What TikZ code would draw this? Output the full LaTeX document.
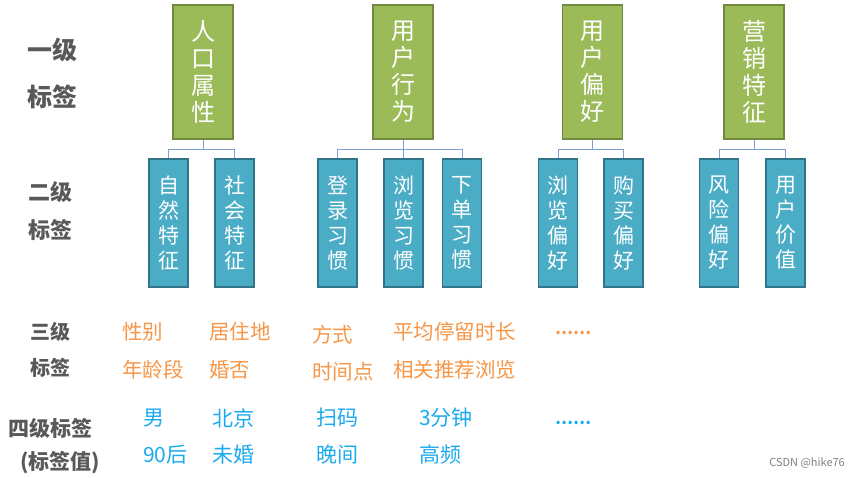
\documentclass[tikz,border=0pt]{standalone}
\usepackage{fontspec}
\setmainfont{Noto Sans CJK SC}
\usetikzlibrary{positioning}

\definecolor{oneFill}{HTML}{9BBB59}
\definecolor{oneLine}{HTML}{71893F}
\definecolor{twoFill}{HTML}{4BACC6}
\definecolor{twoLine}{HTML}{31748A}
\definecolor{linkCol}{HTML}{7F9FD3}
\definecolor{rowCol}{HTML}{595959}
\definecolor{threeCol}{HTML}{F79646}
\definecolor{fourCol}{HTML}{1AAAEE}

\begin{document}
\begin{tikzpicture}[x=1pt,y=1pt,
  onebox/.style={draw=oneLine, fill=oneFill, line width=1.6pt, minimum width=60pt, minimum height=134pt, inner sep=0pt, align=center, text=white, font=\fontsize{24}{27}\selectfont},
  twobox/.style={draw=twoLine, fill=twoFill, line width=1.6pt, minimum width=39pt, minimum height=128pt, inner sep=0pt, align=center, text=white, font=\fontsize{21}{25}\selectfont},
  link/.style={draw=linkCol, line width=1pt},
  rowlabel/.style={text=rowCol, inner sep=0pt, font=\bfseries\fontsize{22}{22}\selectfont},
  threetext/.style={anchor=west, inner sep=0pt, text=threeCol, font=\fontsize{20.5}{20.5}\selectfont},
  fourtext/.style={anchor=west, inner sep=0pt, text=fourCol, font=\fontsize{21}{21}\selectfont},
  dots/.style={font=\bfseries\fontsize{16}{16}\selectfont}]

\useasboundingbox (0,0) rectangle (859,-478);

%level one boxes
\foreach \name/\x/\txt in {pop/203/{人\\口\\属\\性}, act/403/{用\\户\\行\\为}, pref/592.5/{用\\户\\偏\\好}, mkt/754/{营\\销\\特\\征}}
  \node[onebox] (\name) at (\x,-72) {\txt};

%level two boxes
\foreach \name/\x/\txt in {nat/168.5/{自\\然\\特\\征}, soc/234.5/{社\\会\\特\\征}, login/337.5/{登\\录\\习\\惯}, browse/403.5/{浏\\览\\习\\惯}, order/462/{下\\单\\习\\惯}, bpref/558/{浏\\览\\偏\\好}, buy/623.5/{购\\买\\偏\\好}, risk/719/{风\\险\\偏\\好}, worth/785.5/{用\\户\\价\\值}}
  \node[twobox] (\name) at (\x,-223) {\txt};

%draw connectors
\foreach \p/\c in {pop/nat, pop/soc, act/login, act/browse, act/order, pref/bpref, pref/buy, mkt/risk, mkt/worth}
  \draw[link] (\p.south) -- ++(0,-10) -| (\c.north);

%row labels
\node[rowlabel, font=\bfseries\fontsize{25}{25}\selectfont] (oneA) at (52.5,-50) {一级};
\node[rowlabel, font=\bfseries\fontsize{25}{25}\selectfont] (oneB) at (52.5,-97) {标签};
\node[rowlabel] (twoA) at (50,-192) {二级};
\node[rowlabel] (twoB) at (50,-230) {标签};
\node[rowlabel, font=\bfseries\fontsize{20}{20}\selectfont] (threeA) at (50,-332) {三级};
\node[rowlabel, font=\bfseries\fontsize{20}{20}\selectfont] (threeB) at (50,-368) {标签};
\node[rowlabel, font=\bfseries\fontsize{21}{21}\selectfont] (fourA) at (50.5,-428) {四级标签};
\node[rowlabel, font=\bfseries\fontsize{21}{21}\selectfont] (fourB) at (60,-463) {(标签值)};

%level three texts
\foreach \name/\x/\y/\txt in {sex/122/-332/性别, age/122/-370/年龄段, home/209/-332/居住地, marry/209/-370/婚否, way/312/-335/方式, when/312/-372/时间点, stay/393/-332/平均停留时长, rec/393/-370/相关推荐浏览}
  \node[threetext] (\name) at (\x,\y) {\txt};
\node[threetext, dots] (moreC) at (555,-333) {……};

%level four texts
\foreach \name/\x/\y/\txt in {male/143/-418/男, born/143/-455/90后, city/212/-418/北京, single/212/-455/未婚, scan/316/-418/扫码, night/316/-455/晚间, dur/419/-418/3分钟, freq/419/-455/高频}
  \node[fourtext] (\name) at (\x,\y) {\txt};
\node[fourtext, dots] (moreD) at (555,-423) {……};

\node[anchor=east, inner sep=0pt, text=gray, font=\fontsize{11}{11}\selectfont] (mark) at (845,-463) {CSDN @hike76};
\end{tikzpicture}
\end{document}
